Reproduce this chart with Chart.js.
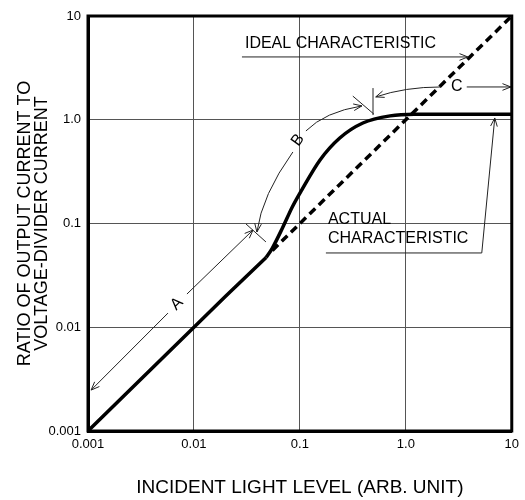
<!DOCTYPE html>
<html>
<head>
<meta charset="utf-8">
<script src="https://cdn.jsdelivr.net/npm/chart.js@4.4.1/dist/chart.umd.min.js"></script>
<style>
  body { margin: 0; background: #fff; }
  #wrap { width: 525px; height: 500px; }
</style>
</head>
<body>
<div id="wrap"><canvas id="myChart"></canvas></div>
<script>
// axis ticks (log decades)
var tickValues = [0.001, 0.01, 0.1, 1, 10];
var tickLabels = ['0.001', '0.01', '0.1', '1.0', '10'];

// actual characteristic, straight part and curved part
var actualLowX = [0.001, 0.01, 0.02, 0.048];
var actualLowY = [0.001, 0.01, 0.02, 0.047];
var actualHighX = [0.048, 0.055, 0.069, 0.085, 0.104, 0.155, 0.238, 0.393, 0.71, 1.2, 10];
var actualHighY = [0.047, 0.058, 0.092, 0.145, 0.21, 0.41, 0.667, 0.93, 1.09, 1.13, 1.13];

// ideal characteristic
var idealX = [0.055, 10];
var idealY = [0.055, 10];

// annotations (data coordinates)
var textNotes = [
    { text: 'IDEAL CHARACTERISTIC', at: [0.0303, 5.37], rot: 0 },
    { text: 'ACTUAL', at: [0.184, 0.108], rot: 0 },
    { text: 'CHARACTERISTIC', at: [0.184, 0.071], rot: 0 },
    { text: 'A', at: [0.00692, 0.0168], rot: -45, center: true },
    { text: 'B', at: [0.0957, 0.638], rot: -55, center: true },
    { text: 'C', at: [3.03, 2.07], rot: 0, center: true }
];
// polylines, arrow head at the last point when head is true
var arrowLines = [
    { pts: [[0.0284, 4.03], [3.85, 4.03]], head: true },
    { pts: [[3.76, 2.07], [9.8, 2.07]], head: true },
    { pts: [[0.176, 0.052], [5.21, 0.052], [6.91, 1.04]], head: true },
    { pts: [[0.00569, 0.0137], [0.00107, 0.00248]], head: true },
    { pts: [[0.00859, 0.0209], [0.0361, 0.0865]], head: true },
    { pts: [[0.49, 2.02], [0.49, 1.11]], head: false },
    { pts: [[0.316, 1.69], [0.499, 1.135]], head: false },
    { pts: [[0.031, 0.099], [0.0478, 0.0664]], head: false }
];
// curved arrows: start, control, end
var arrowCurves = [
    [[2.14, 2.07], [0.98, 2.07], [0.52, 1.66]],
    [[0.114, 0.78], [0.172, 1.19], [0.385, 1.36]],
    [[0.0859, 0.489], [0.0439, 0.188], [0.0393, 0.0828]]
];

var FONT = '"Liberation Sans", Arial, Helvetica, sans-serif';

function toPoints(xs, ys) {
    return xs.map(function (v, i) { return { x: v, y: ys[i] }; });
}

function drawHead(ctx, fx, fy, tx, ty) {
    var ang = Math.atan2(ty - fy, tx - fx);
    var len = 9, spread = 0.38;
    ctx.beginPath();
    ctx.moveTo(tx - len * Math.cos(ang - spread), ty - len * Math.sin(ang - spread));
    ctx.lineTo(tx, ty);
    ctx.lineTo(tx - len * Math.cos(ang + spread), ty - len * Math.sin(ang + spread));
    ctx.stroke();
}

var notesPlugin = {
    id: 'notes',
    afterDatasetsDraw: function (chart) {
        var ctx = chart.ctx;
        var xs = chart.scales.x, ys = chart.scales.y;
        function P(p) { return [xs.getPixelForValue(p[0]), ys.getPixelForValue(p[1])]; }
        ctx.save();
        ctx.strokeStyle = '#222';
        ctx.lineWidth = 1;
        arrowLines.forEach(function (a) {
            var pp = a.pts.map(P);
            ctx.beginPath();
            ctx.moveTo(pp[0][0], pp[0][1]);
            for (var i = 1; i < pp.length; i++) ctx.lineTo(pp[i][0], pp[i][1]);
            ctx.stroke();
            if (a.head) {
                var n = pp.length;
                drawHead(ctx, pp[n - 2][0], pp[n - 2][1], pp[n - 1][0], pp[n - 1][1]);
            }
        });
        arrowCurves.forEach(function (c) {
            var s = P(c[0]), k = P(c[1]), e = P(c[2]);
            ctx.beginPath();
            ctx.moveTo(s[0], s[1]);
            ctx.quadraticCurveTo(k[0], k[1], e[0], e[1]);
            ctx.stroke();
            drawHead(ctx, k[0], k[1], e[0], e[1]);
        });
        ctx.fillStyle = '#000';
        ctx.font = '16px ' + FONT;
        ctx.textBaseline = 'middle';
        textNotes.forEach(function (t) {
            var p = P(t.at);
            ctx.save();
            ctx.translate(p[0], p[1]);
            ctx.rotate(t.rot * Math.PI / 180);
            ctx.textAlign = t.center ? 'center' : 'left';
            ctx.fillText(t.text, 0, 0);
            ctx.restore();
        });
        ctx.restore();
    },
    afterDraw: function (chart) {
        var a = chart.chartArea, ctx = chart.ctx;
        ctx.save();
        ctx.strokeStyle = '#000';
        ctx.lineWidth = 3;
        ctx.strokeRect(a.left, a.top, a.right - a.left, a.bottom - a.top);
        ctx.restore();
    }
};

function decadeTicks(scale) {
    scale.ticks = tickValues.map(function (v) { return { value: v }; });
}
function decadeLabel(value) {
    var i = tickValues.indexOf(value);
    return i >= 0 ? tickLabels[i] : '';
}

var ctx = document.getElementById('myChart').getContext('2d');
var myChart = new Chart(ctx, {
    type: 'line',
    data: {
        datasets: [{
            label: 'actual',
            data: toPoints(actualLowX, actualLowY),
            borderColor: '#000',
            borderWidth: 3.5,
            pointRadius: 0,
            tension: 0
        }, {
            label: 'actual',
            data: toPoints(actualHighX, actualHighY),
            borderColor: '#000',
            borderWidth: 3.5,
            pointRadius: 0,
            cubicInterpolationMode: 'monotone'
        }, {
            label: 'ideal',
            data: toPoints(idealX, idealY),
            borderColor: '#000',
            borderWidth: 3.5,
            borderDash: [8, 5],
            pointRadius: 0
        }]
    },
    options: {
        responsive: true,
        maintainAspectRatio: false,
        animation: false,
        layout: { padding: { top: 16, right: 13, left: 0, bottom: 0 } },
        plugins: { legend: { display: false }, tooltip: { enabled: false } },
        scales: {
            x: {
                type: 'logarithmic',
                min: 0.001,
                max: 10,
                afterBuildTicks: decadeTicks,
                afterFit: function (s) { s.height = 69; },
                grid: { color: '#555', lineWidth: 1, drawTicks: false },
                border: { color: '#000', width: 3 },
                ticks: {
                    autoSkip: false, maxRotation: 0, padding: 6,
                    color: '#000', font: { family: FONT, size: 13 },
                    callback: decadeLabel
                },
                title: {
                    display: true,
                    text: 'INCIDENT LIGHT LEVEL (ARB. UNIT)',
                    color: '#000',
                    font: { family: FONT, size: 19 },
                    padding: { top: 0, bottom: 1 }
                }
            },
            y: {
                type: 'logarithmic',
                min: 0.001,
                max: 10,
                afterBuildTicks: decadeTicks,
                afterFit: function (s) { s.width = 88; },
                grid: { color: '#555', lineWidth: 1, drawTicks: false },
                border: { color: '#000', width: 3 },
                ticks: {
                    autoSkip: false, padding: 7,
                    color: '#000', font: { family: FONT, size: 13 },
                    callback: decadeLabel
                },
                title: {
                    display: true,
                    text: ['RATIO OF OUTPUT CURRENT TO', 'VOLTAGE-DIVIDER CURRENT'],
                    color: '#000',
                    font: { family: FONT, size: 18, lineHeight: 0.95 },
                    padding: { top: 16, bottom: 0 }
                }
            }
        }
    },
    plugins: [notesPlugin]
});
</script>
</body>
</html>
